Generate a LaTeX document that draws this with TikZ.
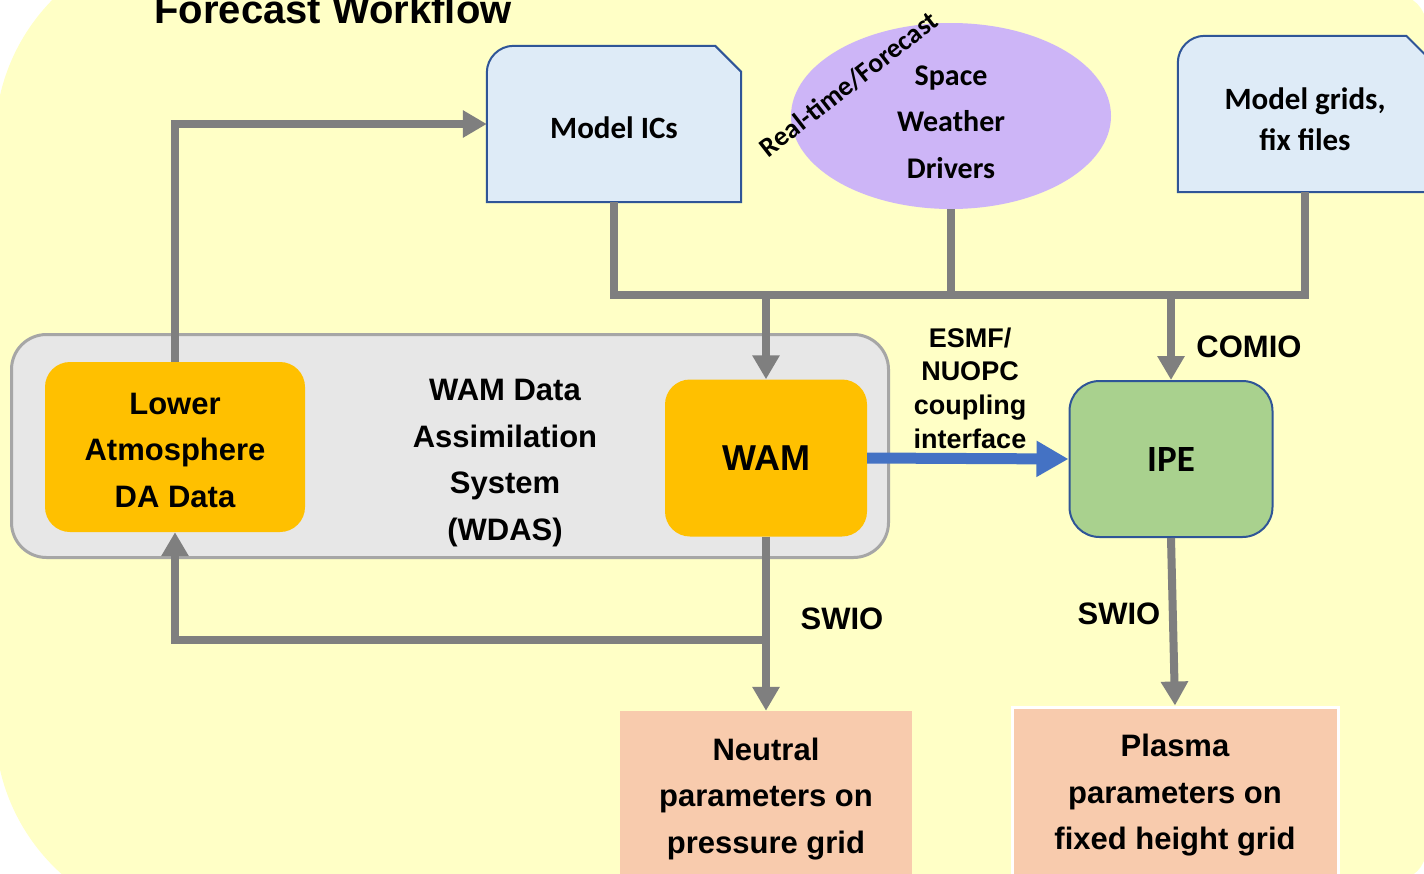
\documentclass[tikz,border=0pt]{standalone}
\usepackage{fontspec}
\setmainfont{Liberation Sans}
\newfontfamily\calibri{Carlito}
\usetikzlibrary{arrows.meta,shapes.geometric}

\definecolor{bgyellow}{HTML}{FFFFC6}
\definecolor{docfill}{HTML}{DEEBF7}
\definecolor{docedge}{HTML}{2F5597}
\definecolor{swdpurple}{HTML}{CDB5F7}
\definecolor{wdasgray}{HTML}{E7E7E7}
\definecolor{wdasedge}{HTML}{A6A6A6}
\definecolor{daorange}{HTML}{FFC000}
\definecolor{ipegreen}{HTML}{A9D18E}
\definecolor{outpeach}{HTML}{F8CBAD}
\definecolor{pipegray}{HTML}{7F7F7F}
\definecolor{esmfblue}{HTML}{4472C4}

\pgfdeclarelayer{paper}
\pgfdeclarelayer{shapes}
\pgfsetlayers{paper,shapes,main}

% file symbol: rounded top left, cut top right
\newcommand\docshape[1]{%
  \filldraw[fill=docfill,draw=docedge,line width=2pt]
    ([yshift=-27pt]#1.north west) arc[start angle=180,end angle=90,radius=27pt]
    -- ([xshift=-26pt]#1.north east) -- ([yshift=-26pt]#1.north east)
    -- (#1.south east) -- (#1.south west) -- cycle;}

\begin{document}
\begin{tikzpicture}[x=1pt,y=-1pt,
  txt/.style={font=\bfseries\fontsize{31}{46.5}\selectfont,align=center,inner sep=0pt},
  cal/.style={font=\calibri\bfseries\fontsize{31}{41}\selectfont,align=center,inner sep=0pt},
  doc/.style={inner sep=0pt,minimum width=254pt,minimum height=156pt},
  dabox/.style={fill=daorange,rounded corners=25pt},
  outbox/.style={fill=outpeach,minimum height=170pt},
  lbl/.style={font=\bfseries\fontsize{31}{37}\selectfont,inner sep=0pt},
  pipe/.style={draw=pipegray,line width=8pt},
  flow/.style={pipe,-{Triangle[length=24pt,width=26pt]}},
  coupling/.style={draw=esmfblue,line width=11pt,-{Triangle[length=32pt,width=34pt]}}]
 \useasboundingbox (0,0) rectangle (1424,873);
 \clip (0,0) rectangle (1424,873);

 \begin{pgfonlayer}{paper}
 \fill[bgyellow] (-5,140) arc[start angle=180,end angle=90,radius=200pt]
   -- (1396,-5) arc[start angle=90,end angle=0,radius=30pt]
   -- (1426,850) arc[start angle=0,end angle=-90,radius=30pt]
   -- (195,925) arc[start angle=-90,end angle=-180,radius=200pt] -- cycle; %yellow sheet
 \end{pgfonlayer}

 \node[anchor=base,font=\bfseries\fontsize{40}{48}\selectfont] (title) at (333,23) {Forecast Workflow};

 % inputs
 \node[doc] (ics) at (614,124) {};
 \node[doc] (grids) at (1305,114) {};
 \begin{pgfonlayer}{shapes}
 \docshape{ics}
 \docshape{grids}
 \end{pgfonlayer}
 \node[cal] (icstxt) at (614,128) {Model ICs};
 \node[cal] (gridstxt) at (1305,119) {Model grids,\\fix files};
 \node[ellipse,fill=swdpurple,minimum width=320pt,minimum height=186pt,inner sep=0pt] (swd) at (951,116) {};
 \node[cal,font=\calibri\bfseries\fontsize{30}{46.5}\selectfont] (swdtxt) at (951,122) {Space\\Weather\\Drivers};
 \node[rotate=38,font=\calibri\bfseries\fontsize{27.5}{30}\selectfont] (rt) at (849,84) {Real-time/Forecast};

 % WDAS
 \node[draw=wdasedge,fill=wdasgray,line width=3pt,rounded corners=35pt,
   minimum width=877pt,minimum height=223pt] (wdas) at (450,446) {};
 \node[txt] (wdastxt) at (505,463) {WAM Data\\Assimilation\\System\\(WDAS)};
 \node[dabox,minimum width=260pt,minimum height=170pt] (lower) at (175,447) {};
 \node[txt] (lowertxt) at (175,450) {Lower\\Atmosphere\\DA Data};
 \node[dabox,minimum width=202pt,minimum height=157pt,
   font=\bfseries\fontsize{36}{40}\selectfont] (wam) at (766,458) {WAM};

 % IPE and outputs
 \node[fill=ipegreen,draw=docedge,line width=2pt,rounded corners=30pt,minimum width=203pt,minimum height=156pt,
   font=\calibri\bfseries\fontsize{37}{40}\selectfont] (ipe) at (1171,459) {IPE};
 \node[outbox,minimum width=292pt] (neutral) at (766,796) {};
 \node[txt] (neutraltxt) at (766,799) {Neutral\\parameters on\\pressure grid};
 \node[outbox,draw=white,line width=3pt,minimum width=326pt] (plasma) at (1175,792) {};
 \node[txt] (plasmatxt) at (1175,795.5) {Plasma\\parameters on\\fixed height grid};

 % connectors
 \coordinate (bus) at (0,295);
 \coordinate (split) at (766,640);
 \draw[pipe] (ics.south) |- (grids.south |- bus) -- (grids.south);
 \draw[pipe] (swd.south) -- (swd.south |- bus);
 \draw[flow] (wam.north |- bus) -- (wam.north);
 \draw[flow] (ipe.north |- bus) -- (ipe.north);
 \draw[flow] (lower.north) |- (ics.west);
 \draw[flow] (wam.south) -- (neutral.north);
 \draw[flow] (split) -| (lower.south);
 \draw[coupling] (wam.east) -- (ipe.west);
 \draw[flow] (ipe.south) -- (plasma.north);

 \node[lbl] (comio) at (1249,347) {COMIO};
 \node[lbl] (swiowam) at (842,619) {SWIO};
 \node[lbl] (swioipe) at (1119,614) {SWIO};
 \node[txt,font=\bfseries\fontsize{27}{33.7}\selectfont] (esmf) at (970,388) {ESMF/\\NUOPC\\coupling\\interface};
\end{tikzpicture}
\end{document}
